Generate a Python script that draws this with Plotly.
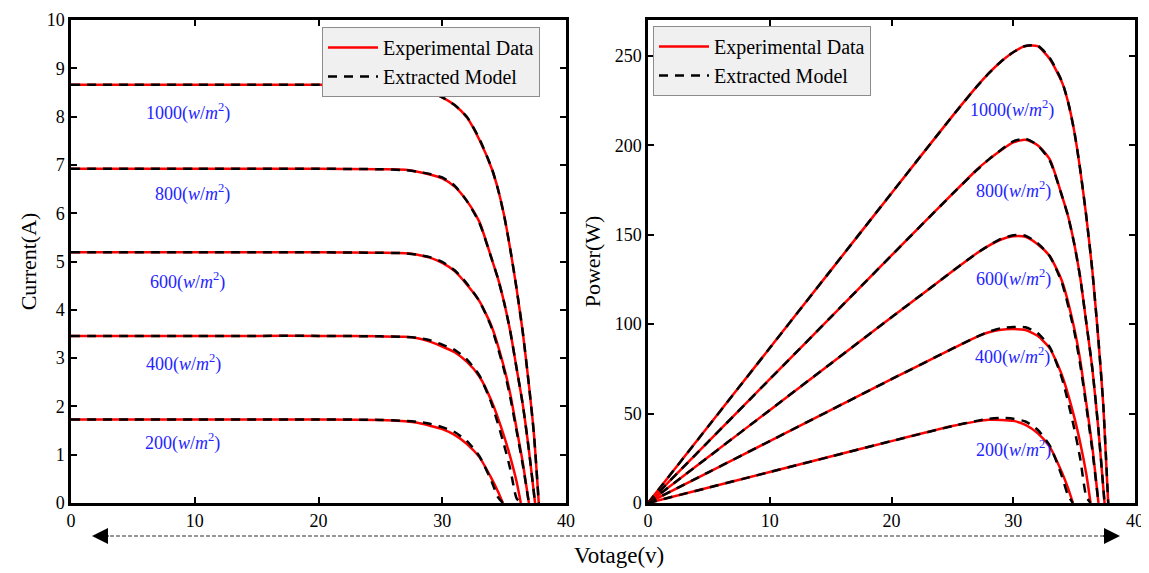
import plotly.graph_objects as go

# ---------------- data ----------------
irradiances = [1000, 800, 600, 400, 200]

V_1000 = [0, 5, 10, 15, 20, 25, 27, 28, 29, 30, 31, 32, 33, 34, 34.5, 35, 35.5, 36, 36.5, 37, 37.4, 37.8]
Iexp_1000 = [8.66, 8.66, 8.66, 8.66, 8.66, 8.65, 8.62, 8.58, 8.51, 8.40, 8.24, 7.98, 7.52, 6.92, 6.50, 5.95, 5.25, 4.45, 3.55, 2.45, 1.45, 0]
Imod_1000 = [8.66, 8.66, 8.66, 8.66, 8.66, 8.65, 8.62, 8.58, 8.51, 8.40, 8.24, 7.99, 7.54, 6.93, 6.50, 5.95, 5.25, 4.45, 3.55, 2.45, 1.45, 0]

V_800 = [0, 5, 10, 15, 20, 25, 27, 28, 29, 30, 31, 32, 33, 34, 34.5, 35, 35.5, 36, 36.5, 37, 37.5]
Iexp_800 = [6.92, 6.92, 6.92, 6.92, 6.92, 6.91, 6.90, 6.86, 6.80, 6.72, 6.55, 6.25, 5.82, 5.05, 4.65, 4.15, 3.55, 2.80, 2.05, 1.10, 0]
Imod_800 = [6.92, 6.92, 6.92, 6.92, 6.92, 6.91, 6.89, 6.86, 6.81, 6.74, 6.57, 6.25, 5.80, 5.05, 4.65, 4.15, 3.55, 2.80, 2.05, 1.10, 0]

V_600 = [0, 5, 10, 15, 20, 25, 27, 28, 29, 30, 31, 32, 33, 34, 35, 35.5, 36, 36.5, 37.0]
Iexp_600 = [5.19, 5.19, 5.19, 5.19, 5.19, 5.18, 5.17, 5.14, 5.08, 4.97, 4.80, 4.52, 4.18, 3.65, 2.80, 2.25, 1.55, 0.85, 0]
Imod_600 = [5.19, 5.19, 5.19, 5.19, 5.19, 5.18, 5.17, 5.14, 5.09, 4.99, 4.82, 4.54, 4.18, 3.62, 2.75, 2.18, 1.50, 0.80, 0]

V_400 = [0, 5, 10, 15, 20, 25, 27, 28, 29, 30, 31, 32, 33, 34, 35, 35.5, 36, 36.35]
Iexp_400 = [3.46, 3.46, 3.46, 3.46, 3.46, 3.45, 3.44, 3.41, 3.34, 3.24, 3.12, 2.92, 2.62, 2.10, 1.38, 0.95, 0.45, 0]
Imod_400 = [3.46, 3.46, 3.46, 3.46, 3.46, 3.45, 3.44, 3.42, 3.37, 3.28, 3.17, 2.97, 2.64, 2.05, 1.20, 0.70, 0.10, 0]

V_200 = [0, 5, 10, 15, 20, 25, 27, 28, 29, 30, 31, 32, 33, 34, 34.5, 34.9]
Iexp_200 = [1.73, 1.73, 1.73, 1.73, 1.73, 1.72, 1.69, 1.66, 1.60, 1.53, 1.41, 1.22, 0.95, 0.50, 0.24, 0]
Imod_200 = [1.73, 1.73, 1.73, 1.73, 1.73, 1.72, 1.70, 1.68, 1.64, 1.57, 1.47, 1.28, 0.97, 0.44, 0.12, 0]

voltages = [V_1000, V_800, V_600, V_400, V_200]
currents_exp = [Iexp_1000, Iexp_800, Iexp_600, Iexp_400, Iexp_200]
currents_mod = [Imod_1000, Imod_800, Imod_600, Imod_400, Imod_200]

# label anchor positions (data units)
iv_label_V = [9.45, 9.85, 9.45, 9.1, 8.97]
iv_label_I = [8.1, 6.42, 4.6, 2.9, 1.27]
pv_label_V = [29.9, 30.0, 30.0, 29.9, 30.0]
pv_label_P = [220, 175, 126, 82, 30]

x_ticks = [0, 10, 20, 30, 40]
i_ticks = list(range(0, 11))
p_ticks = [0, 50, 100, 150, 200, 250]

FONT = "Liberation Serif"
RED = "#ff0000"
BLUE = "#2424ff"

fig = go.Figure()

for k, g in enumerate(irradiances):
    V = voltages[k]
    Ie = currents_exp[k]
    Im = currents_mod[k]
    Pe = [v * i for v, i in zip(V, Ie)]
    Pm = [v * i for v, i in zip(V, Im)]
    first = (k == 0)
    # I-V (left)
    fig.add_trace(go.Scatter(x=V, y=Ie, mode="lines", line=dict(color=RED, width=2.5, shape="spline", smoothing=0.6),
                             name="Experimental Data", legendgroup="exp", showlegend=first, legend="legend",
                             xaxis="x", yaxis="y"))
    fig.add_trace(go.Scatter(x=V, y=Im, mode="lines", line=dict(color="black", width=2.5, dash="9px,7px", shape="spline", smoothing=0.6),
                             name="Extracted Model", legendgroup="mod", showlegend=first, legend="legend",
                             xaxis="x", yaxis="y"))
    # P-V (right)
    fig.add_trace(go.Scatter(x=V, y=Pe, mode="lines", line=dict(color=RED, width=2.5, shape="spline", smoothing=0.6),
                             name="Experimental Data", showlegend=first, legend="legend2",
                             xaxis="x2", yaxis="y2"))
    fig.add_trace(go.Scatter(x=V, y=Pm, mode="lines", line=dict(color="black", width=2.5, dash="9px,7px", shape="spline", smoothing=0.6),
                             name="Extracted Model", showlegend=first, legend="legend2",
                             xaxis="x2", yaxis="y2"))

annotations = []
for k, g in enumerate(irradiances):
    txt = f"{g}(<i>w</i>/<i>m</i><sup>2</sup>)"
    annotations.append(dict(x=iv_label_V[k], y=iv_label_I[k], xref="x", yref="y", text=txt, showarrow=False,
                            font=dict(family=FONT, size=18, color=BLUE)))
    annotations.append(dict(x=pv_label_V[k], y=pv_label_P[k], xref="x2", yref="y2", text=txt, showarrow=False,
                            font=dict(family=FONT, size=18, color=BLUE)))

# page has an 8px body margin: figure is 1141x565, placed at (8,8)
OFF = 8
W, H = 1149 - OFF, 573 - OFF
def px(x):
    return (x - OFF) / W
def py(y):
    return 1 - (y - OFF) / H

# bottom arrow: dashed line + two arrowheads
arrow_y = py(536)
annotations.append(dict(x=px(92), y=arrow_y, ax=18, ay=0, xref="paper", yref="paper",
                        axref="pixel", ayref="pixel", text="", showarrow=True, arrowhead=2,
                        arrowsize=1.6, arrowwidth=2, arrowcolor="black"))
annotations.append(dict(x=px(1120), y=arrow_y, ax=-18, ay=0, xref="paper", yref="paper",
                        axref="pixel", ayref="pixel", text="", showarrow=True, arrowhead=2,
                        arrowsize=1.6, arrowwidth=2, arrowcolor="black"))
annotations.append(dict(x=px(619), y=py(555), xref="paper", yref="paper", yanchor="middle", xanchor="center",
                        text="Votage(v)", showarrow=False,
                        font=dict(family=FONT, size=23, color="black")))

shapes = [dict(type="line", xref="paper", yref="paper", x0=px(98), x1=px(1114), y0=arrow_y, y1=arrow_y,
               line=dict(color="#333333", width=1.2, dash="4px,2px"))]

axis_common = dict(showline=True, linecolor="black", linewidth=2.5, mirror="ticks", ticks="inside",
                   ticklen=6, tickwidth=2, tickcolor="black", showgrid=False, zeroline=False,
                   automargin=False, tickfont=dict(family=FONT, size=18, color="black"))

fig.update_layout(
    width=W, height=H,
    margin=dict(l=0, r=0, t=0, b=0),
    paper_bgcolor="white", plot_bgcolor="white",
    xaxis=dict(domain=[px(71), px(566)], range=[0, 40], tickvals=x_ticks, anchor="y", **axis_common),
    yaxis=dict(domain=[py(503), py(20)], range=[0, 10], tickvals=i_ticks, anchor="x",
               title=dict(text="Current(A)", font=dict(family=FONT, size=22, color="black"), standoff=4),
               **axis_common),
    xaxis2=dict(domain=[px(648), px(1135)], range=[0, 40], tickvals=x_ticks, anchor="y2", **axis_common),
    yaxis2=dict(domain=[py(503), py(20)], range=[0, 270], tickvals=p_ticks, anchor="x2",
                title=dict(text="Power(W)", font=dict(family=FONT, size=22, color="black"), standoff=8),
                **axis_common),
    legend=dict(x=px(322), y=py(27), xanchor="left", yanchor="top", bgcolor="#f0f0f0",
                bordercolor="#8c8c8c", borderwidth=1, font=dict(family=FONT, size=20, color="black"),
                tracegroupgap=0, itemwidth=50),
    legend2=dict(x=px(653), y=py(26), xanchor="left", yanchor="top", bgcolor="#f0f0f0",
                 bordercolor="#8c8c8c", borderwidth=1, font=dict(family=FONT, size=20, color="black"),
                 tracegroupgap=0, itemwidth=50),
    annotations=annotations,
    shapes=shapes,
)

fig.write_html("out.html")
